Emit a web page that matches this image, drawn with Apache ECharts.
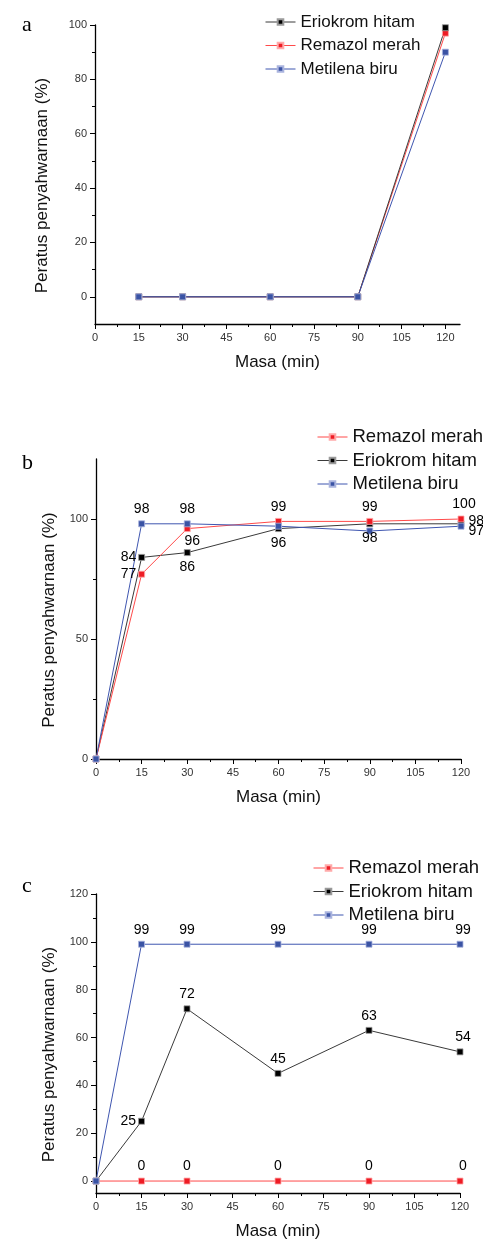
<!DOCTYPE html>
<html>
<head>
<meta charset="utf-8">
<script src="https://cdn.jsdelivr.net/npm/echarts@6/dist/echarts.min.js"></script>
<style>
  html, body { margin: 0; padding: 0; background: #fff; }
  #chart { width: 483px; height: 1243px; }
</style>
</head>
<body>
<div id="chart"></div>
<script>
/* ---- data ---- */
const timeA = [15, 30, 60, 90, 120];
const eriokromA = [0, 0, 0, 0, 99];
const remazolA = [0, 0, 0, 0, 97];
const metilenaA = [0, 0, 0, 0, 90];

const timeB = [0, 15, 30, 60, 90, 120];
const remazolB = [0, 77, 96, 99, 99, 100];
const eriokromB = [0, 84, 86, 96, 98, 98];
const metilenaB = [0, 98, 98, 97, 95, 97];

const timeC = [0, 15, 30, 60, 90, 120];
const remazolC = [0, 0, 0, 0, 0, 0];
const eriokromC = [0, 25, 72, 45, 63, 54];
const metilenaC = [0, 99, 99, 99, 99, 99];

/* ---- tick labels ---- */
const xTicks = [0, 15, 30, 45, 60, 75, 90, 105, 120];
const xMinor = [7.5, 22.5, 37.5, 52.5, 67.5, 82.5, 97.5, 112.5];
const yTicksA = [0, 20, 40, 60, 80, 100];
const yMinorA = [10, 30, 50, 70, 90];
const yTicksB = [0, 50, 100];
const yMinorB = [25, 75];
const yTicksC = [0, 20, 40, 60, 80, 100, 120];
const yMinorC = [10, 30, 50, 70, 90, 110];

const NAMES = { e: "Eriokrom hitam", r: "Remazol merah", m: "Metilena biru" };
const XNAME = "Masa (min)";
const YNAME = "Peratus penyahwarnaan (%)";

/* ---- styles ---- */
const SANS = "'Liberation Sans', Arial, sans-serif";
const COL = {
  e: { line: "#3a3a3a", mark: "#000000", edge: "#9a9a9a" },
  r: { line: "#ff4a4a", mark: "#ee1c25", edge: "#ffaaaa" },
  m: { line: "#3f56b0", mark: "#3a53a4", edge: "#aab4de" },
};

const grids = [
  { left: 95, top: 25, width: 365, height: 299 },
  { left: 96, top: 459, width: 365, height: 300 },
  { left: 96, top: 894, width: 364, height: 299 },
];
const yRange = [[-10, 100], [0, 125], [-5, 120]];
const xMax = [125, 120, 120];
const yMajor = [yTicksA, yTicksB, yTicksC];
const yMin = [yMinorA, yMinorB, yMinorC];
const yNameGap = [44, 38, 38];

const xAxes = [], yAxes = [];
grids.forEach((g, i) => {
  const axLine = { show: true, onZero: false, lineStyle: { color: "#000", width: 1.3 } };
  xAxes.push({
    type: "value", gridIndex: i, position: "bottom", min: 0, max: xMax[i],
    axisLine: axLine, splitLine: { show: false },
    axisTick: { show: true, customValues: xTicks, length: 5, lineStyle: { color: "#000" } },
    axisLabel: { customValues: xTicks, margin: 8, color: "#333", fontSize: 11, fontFamily: SANS },
    name: XNAME, nameLocation: "middle", nameGap: 30,
    nameTextStyle: { fontSize: 17, color: "#111", fontFamily: SANS },
  });
  xAxes.push({
    type: "value", gridIndex: i, position: "bottom", offset: 0, min: 0, max: xMax[i],
    axisLine: { show: false, onZero: false }, splitLine: { show: false },
    axisTick: { show: true, customValues: xMinor, length: 3, lineStyle: { color: "#000" } },
    axisLabel: { show: false },
  });
  yAxes.push({
    type: "value", gridIndex: i, position: "left", min: yRange[i][0], max: yRange[i][1],
    axisLine: axLine, splitLine: { show: false },
    axisTick: { show: true, customValues: yMajor[i], length: 5, lineStyle: { color: "#000" } },
    axisLabel: { customValues: yMajor[i], margin: 8, color: "#333", fontSize: 11, fontFamily: SANS },
    name: YNAME, nameLocation: "middle", nameGap: yNameGap[i],
    nameTextStyle: { fontSize: 17, color: "#111", fontFamily: SANS, padding: [0, 22, 0, 0] },
  });
  yAxes.push({
    type: "value", gridIndex: i, position: "left", offset: 0, min: yRange[i][0], max: yRange[i][1],
    axisLine: { show: false, onZero: false }, splitLine: { show: false },
    axisTick: { show: true, customValues: yMin[i], length: 3, lineStyle: { color: "#000" } },
    axisLabel: { show: false },
  });
});

/* label placement per point (null = no label) */
const L = (position, extra) => Object.assign({ position }, extra || {});
const labelsB = {
  r: [null, L("left", { distance: 2 }), L("bottom", { distance: 2, offset: [5, 0] }), L("top"), L("top"), L("top", { offset: [3, 0] })],
  e: [null, L("left", { distance: 2 }), L("bottom"), L("bottom"), L("bottom"), L("right", { offset: [0, -3] })],
  m: [null, L("top"), L("top"), null, null, L("right", { offset: [0, 5] })],
};
const top5 = [null, L("top"), L("top"), L("top"), L("top"), L("top", { offset: [3, 0] })];
const labelsC = {
  r: top5,
  e: [null, L("left", { distance: 2 }), L("top"), L("top"), L("top"), L("top", { offset: [3, 0] })],
  m: top5,
};

function line(key, xs, ys, panel, labels) {
  const c = COL[key];
  return {
    type: "line", name: NAMES[key],
    xAxisIndex: panel * 2, yAxisIndex: panel * 2,
    data: xs.map((x, i) => {
      const lp = labels && labels[i];
      return { value: [x, ys[i]], label: lp ? Object.assign({ show: true }, lp) : { show: false } };
    }),
    symbol: "rect", symbolSize: 6, showAllSymbol: true,
    lineStyle: { width: 1, color: c.line },
    itemStyle: { color: c.mark, borderColor: c.edge, borderWidth: 0.8 },
    label: {
      color: "#000", fontSize: 14, fontFamily: SANS, distance: 4,
      formatter: (p) => p.value[1],
    },
    emphasis: { disabled: true },
    z: 3,
  };
}

const series = [
  line("r", timeA, remazolA, 0),
  line("e", timeA, eriokromA, 0),
  line("m", timeA, metilenaA, 0),
  line("e", timeB, eriokromB, 1, labelsB.e),
  line("r", timeB, remazolB, 1, labelsB.r),
  line("m", timeB, metilenaB, 1, labelsB.m),
  line("r", timeC, remazolC, 2, labelsC.r),
  line("e", timeC, eriokromC, 2, labelsC.e),
  line("m", timeC, metilenaC, 2, labelsC.m),
];

function legend(left, top, order, size) {
  return {
    left, top, orient: "vertical", itemWidth: 30, itemHeight: 7, itemGap: 3.5,
    data: order.map((k) => NAMES[k]),
    lineStyle: { width: 1 },
    textStyle: { fontSize: size, color: "#111", fontFamily: SANS, lineHeight: 20 },
    selectedMode: false,
  };
}

const letter = (txt, x, y) => ({
  type: "text", left: x, top: y,
  style: { text: txt, fontSize: 22, fontFamily: "'Liberation Serif', 'Times New Roman', serif", fill: "#000" },
});

const chart = echarts.init(document.getElementById("chart"), null, { renderer: "canvas" });
chart.setOption({
  animation: false,
  backgroundColor: "#fff",
  grid: grids,
  xAxis: xAxes,
  yAxis: yAxes,
  legend: [
    legend(260, 7, ["e", "r", "m"], 17),
    legend(312, 422, ["r", "e", "m"], 18.5),
    legend(308, 853, ["r", "e", "m"], 18.5),
  ],
  graphic: [letter("a", 22, 14), letter("b", 22, 452), letter("c", 22, 875)],
  series,
});
</script>
</body>
</html>
